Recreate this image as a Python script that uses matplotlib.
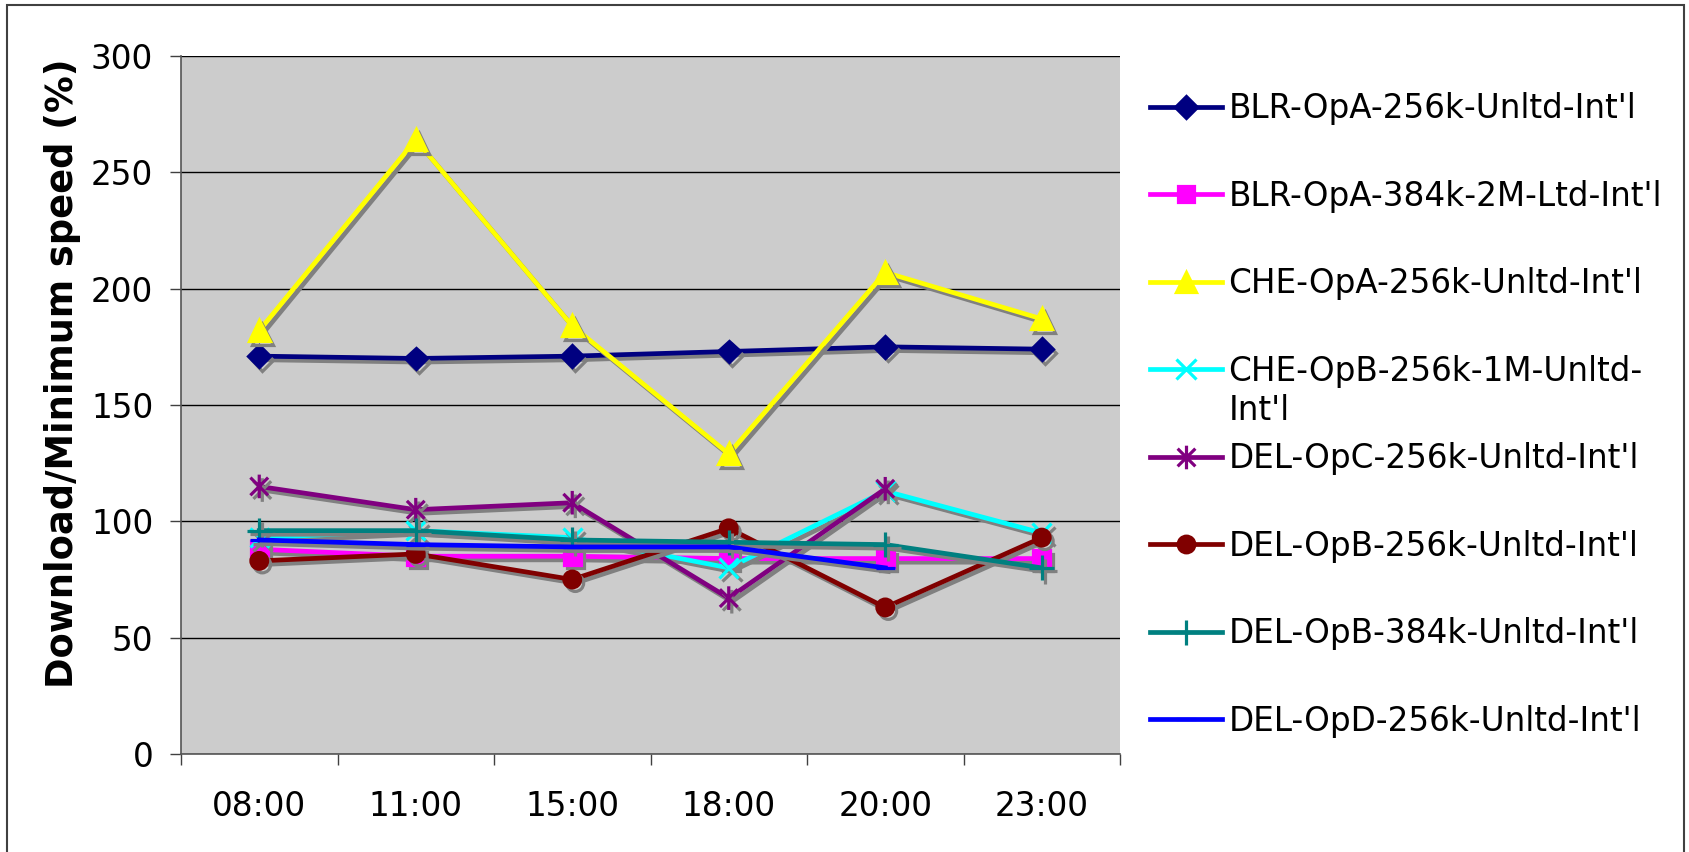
import numpy as np
import matplotlib
matplotlib.use("Agg")
import matplotlib.pyplot as plt
import matplotlib.patheffects as pe
from matplotlib.lines import Line2D
from matplotlib.patches import Rectangle
from matplotlib.path import Path

times = ["08:00", "11:00", "15:00", "18:00", "20:00", "23:00"]

blr_opa_256 = [171, 170, 171, 173, 175, 174]
blr_opa_384 = [88, 85, 85, 84, 84, 84]
che_opa_256 = [182, 264, 184, 129, 207, 187]
che_opb_256 = [93, 96, 93, 80, 113, 95]
del_opc_256 = [115, 105, 108, 67, 114, np.nan]
del_opb_256 = [83, 86, 75, 97, 63, 93]
del_opb_384 = [96, 96, 92, 91, 90, 80]
del_opd_256 = [92, 90, 89, 89, 80, np.nan]

labels = ["BLR-OpA-256k-Unltd-Int'l", "BLR-OpA-384k-2M-Ltd-Int'l",
          "CHE-OpA-256k-Unltd-Int'l", "CHE-OpB-256k-1M-Unltd-",
          "DEL-OpC-256k-Unltd-Int'l", "DEL-OpB-256k-Unltd-Int'l",
          "DEL-OpB-384k-Unltd-Int'l", "DEL-OpD-256k-Unltd-Int'l"]
series = [blr_opa_256, blr_opa_384, che_opa_256, che_opb_256,
          del_opc_256, del_opb_256, del_opb_384, del_opd_256]
colors = ["#000080", "#FF00FF", "#FFFF00", "#00FFFF",
          "#800080", "#800000", "#008080", "#0000FF"]

# star marker: an X with a vertical bar through it
star = Path([(0, -1), (0, 1), (-0.75, -0.75), (0.75, 0.75), (-0.75, 0.75), (0.75, -0.75)],
            [Path.MOVETO, Path.LINETO, Path.MOVETO, Path.LINETO, Path.MOVETO, Path.LINETO])
markers = ["D", "s", "^", "x", star, "o", "+", "_"]
msizes = [11, 12, 15, 14, 17, 12, 18, 14]

FS = 23.5
plt.rcParams["font.family"] = "DejaVu Sans"

fig = plt.figure(figsize=(16.89, 8.52), dpi=100)
ax = fig.add_axes([181 / 1689, 98 / 852, 939 / 1689, 698 / 852])
ax.set_facecolor("#CCCCCC")

x = np.arange(len(times))
shadow = [pe.SimpleLineShadow(offset=(2.2, -2.6), shadow_color="#808080", alpha=1.0),
          pe.Normal()]
handles = []
for y, lab, c, m, ms in zip(series, labels, colors, markers, msizes):
    ax.plot(x, y, color=c, lw=3.4, marker=m, ms=ms, mew=2.3,
            mfc=c, mec=c, path_effects=shadow)
    handles.append(Line2D([], [], color=c, lw=3.4, marker=m, ms=ms, mew=2.3,
                          mfc=c, mec=c))

ax.set_xlim(-0.5, 5.5)
ax.set_ylim(0, 300)
ax.set_yticks(np.arange(0, 301, 50))
ax.yaxis.grid(True, color="black", lw=1)
ax.set_axisbelow(True)
ax.set_xticks(np.arange(-0.5, 6, 1))
ax.set_xticklabels([])
ax.set_xticks(x, minor=True)
ax.set_xticklabels(times, minor=True, fontsize=FS)
ax.tick_params(axis="x", which="minor", length=0, pad=26)
ax.tick_params(axis="x", which="major", length=8, width=1, color="#404040", direction="out")
ax.tick_params(axis="y", length=8, width=1, color="#404040", direction="out",
               labelsize=FS, pad=12)
for s in ["top", "right"]:
    ax.spines[s].set_visible(False)
for s in ["left", "bottom"]:
    ax.spines[s].set_color("#555555")
    ax.spines[s].set_linewidth(1.2)

ax.set_ylabel("Download/Minimum speed (%)", fontsize=26.5, fontweight="bold")
ax.yaxis.set_label_coords(-0.107, 0.545)

leg = fig.legend(handles, labels, loc="upper left",
                 bbox_to_anchor=(1150 / 1689, 1 - 92 / 852),
                 frameon=False, fontsize=FS, handlelength=2.2,
                 handletextpad=0.2, labelspacing=1.67, borderpad=0,
                 borderaxespad=0)

# second line of the wrapped legend entry
fig.canvas.draw()
bb = leg.get_texts()[3].get_window_extent()
fig.text(bb.x0 / 1689, (bb.y0 - 6) / 852, "Int'l", fontsize=FS, va="top", ha="left")

fig.patches.append(Rectangle((7 / 1689, -0.05), 1677 / 1689, 1 - 5 / 852 + 0.05,
                             transform=fig.transFigure, fill=False,
                             edgecolor="#404040", lw=1.5))

fig.savefig("out.png", dpi=100)
